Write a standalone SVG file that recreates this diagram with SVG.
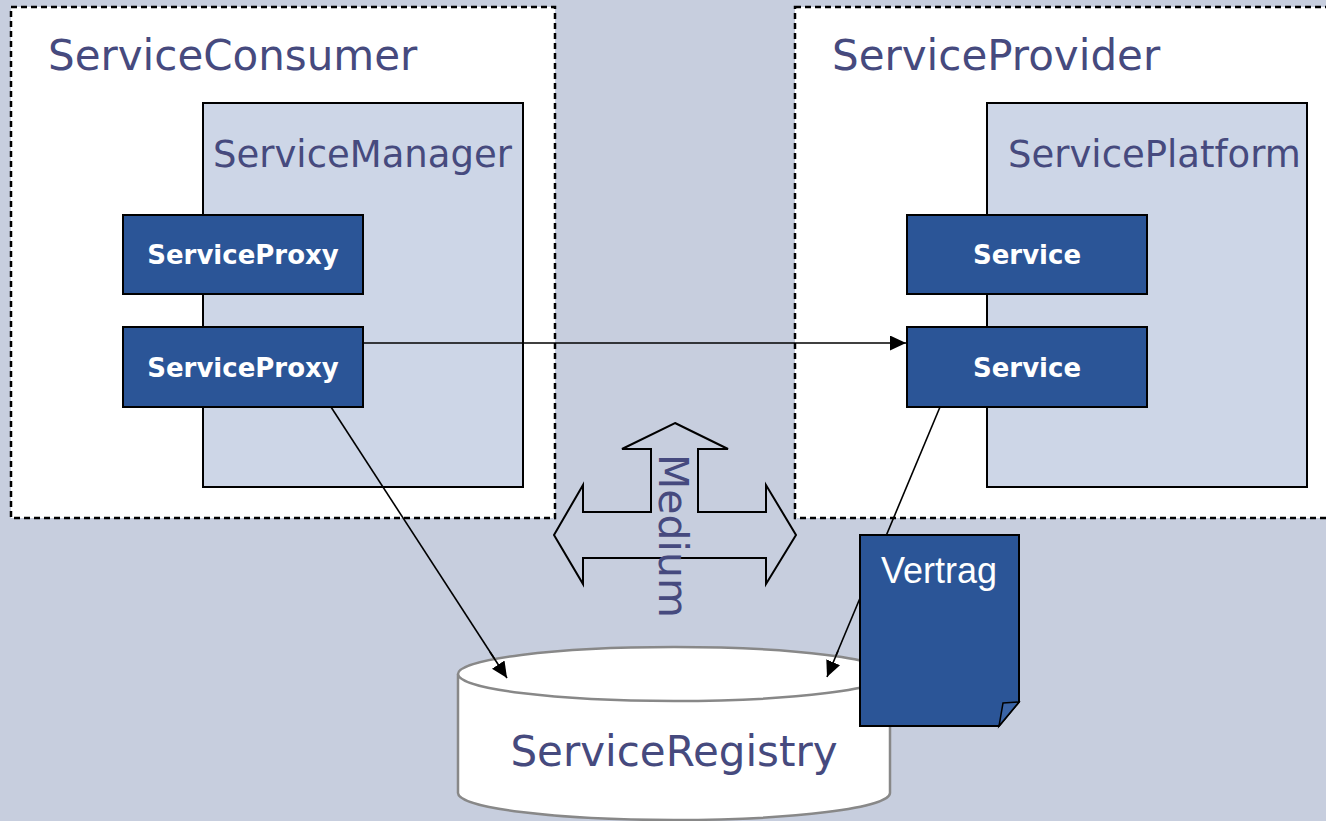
<svg xmlns="http://www.w3.org/2000/svg" width="1326" height="821" viewBox="0 0 1326 821">
  <style>
    .zone { fill: #ffffff; stroke: #000000; stroke-width: 2.5; stroke-dasharray: 6 4; }
    .host { fill: #cdd6e7; stroke: #000000; stroke-width: 2; }
    .comp { fill: #2b5597; stroke: #000000; stroke-width: 2; }
    .title { font-family: "DejaVu Sans", Verdana, sans-serif; fill: #464a7e; }
    .ctext { font-family: "DejaVu Sans", Verdana, sans-serif; font-weight: bold; font-size: 26px; fill: #ffffff; text-anchor: middle; }
    .link { fill: none; stroke: #000000; stroke-width: 1.6; }
  </style>
  <defs>
    <marker id="arrow" viewBox="0 0 10 10" refX="10" refY="5" markerWidth="16" markerHeight="15" markerUnits="userSpaceOnUse" orient="auto" preserveAspectRatio="none">
      <path d="M0,0 L10,5 L0,10 z" fill="#000000"/>
    </marker>
  </defs>

  <rect width="1326" height="821" fill="#c7cede"/>

  <!-- consumer side -->
  <g id="service-consumer">
    <rect class="zone" x="11" y="7" width="544" height="511"/>
    <text class="title" x="48" y="70" font-size="42">ServiceConsumer</text>
  </g>
  <g id="service-manager">
    <rect class="host" x="203" y="103" width="320" height="384"/>
    <text class="title" x="213" y="167" font-size="37">ServiceManager</text>
  </g>
  <g id="service-proxy-1">
    <rect class="comp" x="123" y="215" width="240" height="79"/>
    <text class="ctext" x="243" y="264">ServiceProxy</text>
  </g>
  <g id="service-proxy-2">
    <rect class="comp" x="123" y="327" width="240" height="80"/>
    <text class="ctext" x="243" y="377">ServiceProxy</text>
  </g>

  <!-- provider side (runs past the right edge) -->
  <g id="service-provider">
    <rect class="zone" x="795" y="7" width="545" height="511"/>
    <text class="title" x="832" y="70" font-size="42">ServiceProvider</text>
  </g>
  <g id="service-platform">
    <rect class="host" x="987" y="103" width="320" height="384"/>
    <text class="title" x="1008" y="167" font-size="37">ServicePlatform</text>
  </g>
  <g id="service-1">
    <rect class="comp" x="907" y="215" width="240" height="79"/>
    <text class="ctext" x="1027" y="264">Service</text>
  </g>

  <!-- connectors -->
  <g id="connectors">
    <line class="link" x1="363" y1="343" x2="906" y2="343" marker-end="url(#arrow)"/>
    <line class="link" x1="331" y1="407" x2="507" y2="678" marker-end="url(#arrow)"/>
    <line class="link" x1="940" y1="407" x2="827" y2="677" marker-end="url(#arrow)"/>
  </g>

  <g id="service-2">
    <rect class="comp" x="907" y="327" width="240" height="80"/>
    <text class="ctext" x="1027" y="377">Service</text>
  </g>

  <!-- four-way medium arrow -->
  <g id="medium">
    <polygon points="675,423 728,449 698,449 698,512 766,512 766,485 796,535 766,584 766,558 583,558 583,584 554,535 583,485 583,512 651,512 651,449 622,449" fill="none" stroke="#000000" stroke-width="2"/>
    <text class="title" font-size="41" transform="translate(659,454) rotate(90)">Medium</text>
  </g>

  <!-- registry cylinder -->
  <g id="service-registry">
    <path d="M458,674 L458,793 A216,27 0 0 0 890,793 L890,674" fill="#ffffff" stroke="#888888" stroke-width="2.5"/>
    <ellipse cx="674" cy="674" rx="216" ry="27" fill="#ffffff" stroke="#888888" stroke-width="2.5"/>
    <text class="title" x="674" y="766" font-size="42" text-anchor="middle">ServiceRegistry</text>
  </g>

  <!-- arrowheads drawn over the cylinder top -->
  <g id="connector-heads">
    <line class="link" x1="490" y1="652" x2="507" y2="678" marker-end="url(#arrow)"/>
    <line class="link" x1="838" y1="651" x2="827" y2="677" marker-end="url(#arrow)"/>
  </g>

  <!-- contract document -->
  <g id="vertrag">
    <path d="M860,535 L1019,535 L1019,702 L999,726 L860,726 z" fill="#2b5597" stroke="#000000" stroke-width="2"/>
    <path d="M1003,703 L1019,702 L999,726 z" fill="#3a64a6" stroke="#000000" stroke-width="1.5"/>
    <text x="939" y="583" font-family="Liberation Sans, Arial, sans-serif" font-size="36" fill="#ffffff" text-anchor="middle">Vertrag</text>
  </g>
</svg>
